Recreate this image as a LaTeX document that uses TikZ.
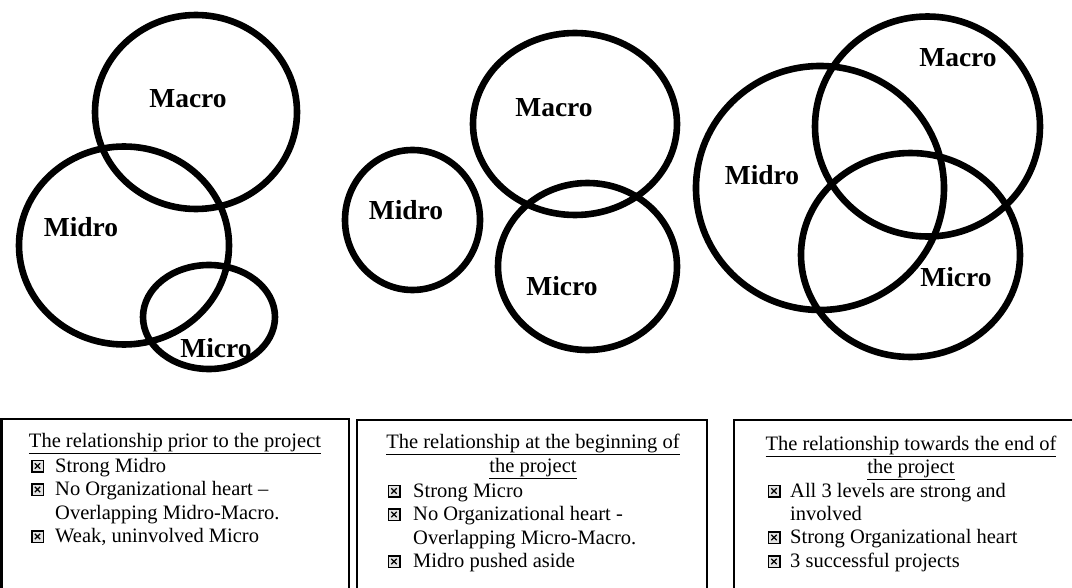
\documentclass[tikz,border=0pt]{standalone}
\usepackage{fontspec}
\setmainfont{Liberation Serif}
\begin{document}
\begin{tikzpicture}[x=1pt,y=-1pt,
  ring/.style={line width=6.6pt},
  lbl/.style={font=\fontsize{27.5}{30}\selectfont\bfseries, inner sep=0pt, anchor=base},
  frame/.style={line width=2.6pt},
  ttl/.style={font=\fontsize{20.5}{23.8}\selectfont, inner sep=0pt, anchor=base},
  itm/.style={font=\fontsize{20.5}{23.8}\selectfont, inner sep=0pt, anchor=base west},
  cbox/.style={draw, line width=1.5pt, fill=gray!22, minimum size=11.5pt, inner sep=0pt,
    path picture={\draw[line width=1.4pt]
      (path picture bounding box.center) +(-2.7pt,-2.7pt) -- +(2.7pt,2.7pt)
      (path picture bounding box.center) +(-2.7pt,2.7pt) -- +(2.7pt,-2.7pt);}}
]
\useasboundingbox (0,0) rectangle (1072,588);
\clip (0,0) rectangle (1072,588);

% ---- left group ----
\draw[ring] (196,112) ellipse [x radius=101pt, y radius=97pt];
\draw[ring] (124,245.5) ellipse [x radius=105pt, y radius=99pt];
\draw[ring] (209,317) ellipse [x radius=66pt, y radius=52pt];
\node[lbl] (lmac) at (188,108) {Macro};
\node[lbl] (lmid) at (81,237) {Midro};
\node[lbl] (lmic) at (216,357) {Micro};

% ---- middle group ----
\draw[ring] (412.5,220) ellipse [x radius=67.5pt, y radius=70pt];
\draw[ring] (575,124) ellipse [x radius=102pt, y radius=91pt];
\draw[ring] (587.5,266.5) ellipse [x radius=89.5pt, y radius=83.5pt];
\node[lbl] (mmac) at (554,117) {Macro};
\node[lbl] (mmid) at (406,220) {Midro};
\node[lbl] (mmic) at (562,296) {Micro};

% ---- right group ----
\draw[ring] (820,188) ellipse [x radius=124pt, y radius=122pt];
\draw[ring] (927.5,126.5) ellipse [x radius=112.5pt, y radius=110pt];
\draw[ring] (910.5,255) ellipse [x radius=109.5pt, y radius=102pt];
\node[lbl] (rmac) at (958,67) {Macro};
\node[lbl] (rmid) at (762,185) {Midro};
\node[lbl] (rmic) at (956,287) {Micro};

% ---- frames ----
\draw[frame] (1.3,600) -- (1.3,419) -- (349,419) -- (349,600);
\draw[frame] (357,600) -- (357,420) -- (707,420) -- (707,600);
\draw[frame] (734,600) -- (734,420) -- (1090,420) -- (1090,600);

% ---- box 1 ----
\node[ttl] (t1) at (175,447) {\underline{The relationship prior to the project}};
\node[cbox] (c11) at (37.5,466) {};
\node[itm] (i11) at (55,472) {Strong Midro};
\node[cbox] (c12) at (37.5,489.5) {};
\node[itm] (i12) at (55,495.5) {No Organizational heart –};
\node[itm] (i12b) at (55,519) {Overlapping Midro-Macro.};
\node[cbox] (c13) at (37.5,536.5) {};
\node[itm] (i13) at (55,542.5) {Weak, uninvolved Micro};

% ---- box 2 ----
\node[ttl] (t2a) at (533,448) {\underline{The relationship at the beginning of}};
\node[ttl] (t2b) at (533,472) {\underline{the project}};
\node[cbox] (c21) at (394,491) {};
\node[itm] (i21) at (413,497) {Strong Micro};
\node[cbox] (c22) at (394,514.5) {};
\node[itm] (i22) at (413,520.5) {No Organizational heart -};
\node[itm] (i22b) at (413,544) {Overlapping Micro-Macro.};
\node[cbox] (c23) at (394,561.5) {};
\node[itm] (i23) at (413,567.5) {Midro pushed aside};

% ---- box 3 ----
\node[ttl] (t3a) at (911,450) {\underline{The relationship towards the end of}};
\node[ttl] (t3b) at (911,473.5) {\underline{the project}};
\node[cbox] (c31) at (774,491) {};
\node[itm] (i31) at (790,497) {All 3 levels are strong and};
\node[itm] (i31b) at (790,520) {involved};
\node[cbox] (c32) at (774,537.5) {};
\node[itm] (i32) at (790,543.5) {Strong Organizational heart};
\node[cbox] (c33) at (774,561.5) {};
\node[itm] (i33) at (790,567.5) {3 successful projects};
\end{tikzpicture}
\end{document}
